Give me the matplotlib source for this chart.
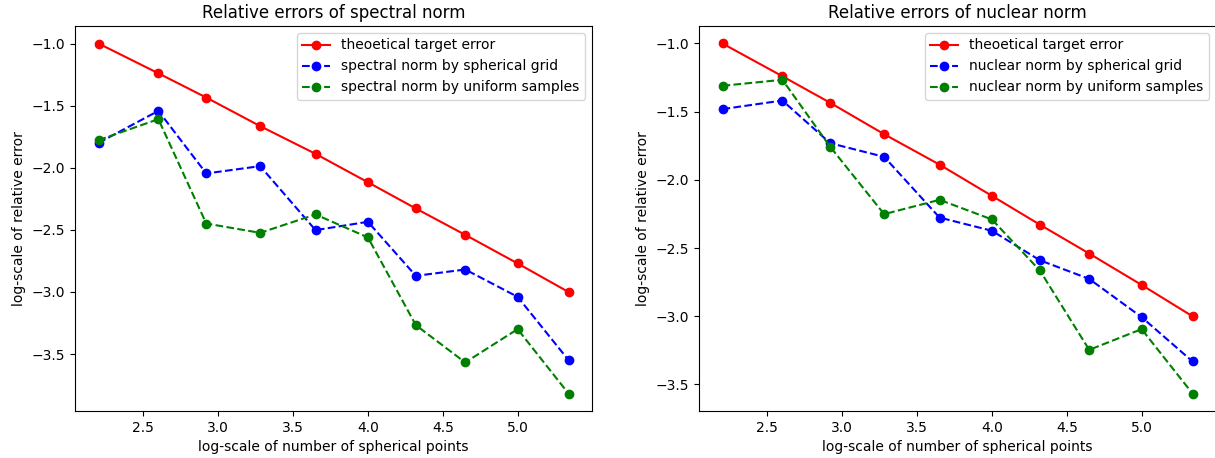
import matplotlib
matplotlib.use("Agg")
import matplotlib.pyplot as plt

# log-scale of number of spherical points
log_points = [2.20, 2.60, 2.92, 3.28, 3.65, 4.00, 4.32, 4.65, 5.00, 5.34]

# theoretical target error (same on both panels)
target_err = [-1.00, -1.24, -1.435, -1.665, -1.888, -2.117, -2.328, -2.54, -2.77, -3.00]

# spectral norm panel
spec_grid = [-1.80, -1.542, -2.046, -1.987, -2.502, -2.435, -2.870, -2.819, -3.039, -3.548]
spec_unif = [-1.778, -1.609, -2.449, -2.524, -2.376, -2.561, -3.267, -3.567, -3.299, -3.817]

# nuclear norm panel
nuc_grid = [-1.481, -1.418, -1.731, -1.831, -2.276, -2.373, -2.589, -2.726, -3.006, -3.331]
nuc_unif = [-1.310, -1.266, -1.758, -2.251, -2.146, -2.290, -2.664, -3.246, -3.094, -3.566]

W, H = 1215, 458
fig = plt.figure(figsize=(W / 100, H / 100), dpi=100)

ax1 = fig.add_axes([75 / W, 47 / H, 517 / W, 385 / H])
ax2 = fig.add_axes([699 / W, 47 / H, 517 / W, 385 / H])


def draw_panel(ax, grid, unif, name):
    ax.plot(log_points, target_err, "o-", color="red", label="theoetical target error")
    ax.plot(log_points, grid, "o--", color="blue", label=f"{name} norm by spherical grid")
    ax.plot(log_points, unif, "o--", color="green", label=f"{name} norm by uniform samples")
    ax.set_title(f"Relative errors of {name} norm")
    ax.set_xlabel("log-scale of number of spherical points")
    ax.set_ylabel("log-scale of relative error")
    ax.legend(loc="upper right")


draw_panel(ax1, spec_grid, spec_unif, "spectral")
draw_panel(ax2, nuc_grid, nuc_unif, "nuclear")

fig.savefig("out.png", dpi=100)
